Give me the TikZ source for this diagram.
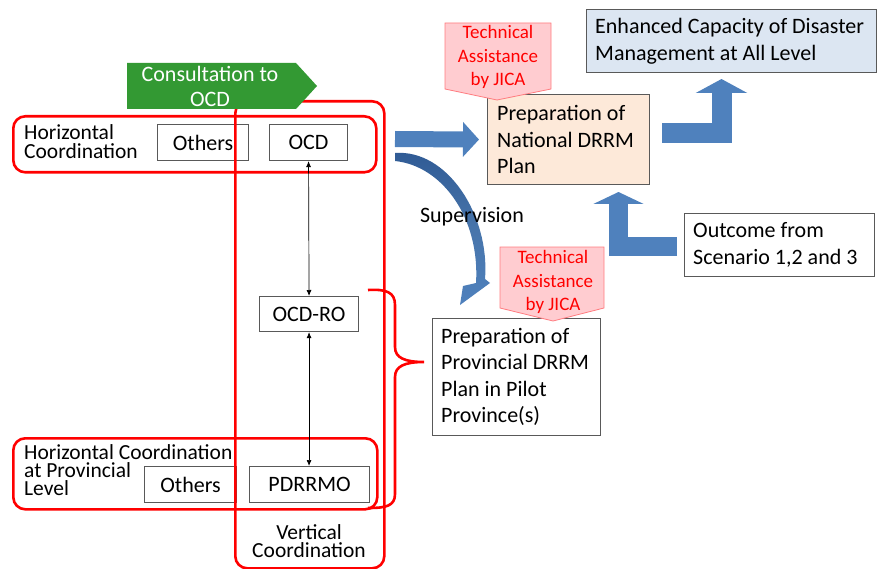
\documentclass[tikz,border=0pt]{standalone}
\usepackage{fontspec}
\setmainfont{Carlito}
\usetikzlibrary{arrows.meta,calc}
\definecolor{arrowblue}{HTML}{4F81BD}
\definecolor{arrowdark}{HTML}{2F5A94}
\definecolor{consultgreen}{HTML}{339933}
\definecolor{frame}{HTML}{FF0000}
\definecolor{boxline}{HTML}{595959}
\definecolor{peach}{HTML}{FDE9D9}
\definecolor{paleblue}{HTML}{DCE6F2}
\definecolor{calloutfill}{HTML}{FFCCD0}
\definecolor{calloutline}{HTML}{FF7C80}

\begin{document}
\begin{tikzpicture}[x=1pt,y=-1pt,
  redframe/.style={draw=frame, line width=2.6pt, rounded corners=12pt, inner sep=0pt, anchor=north west},
  plainbox/.style={draw=boxline, line width=1.1pt, fill=white, inner sep=0pt, anchor=north west},
  boxtext/.style={font=\fontsize{22}{26.5}\selectfont, inner sep=0pt, align=left, anchor=west},
  centertext/.style={font=\fontsize{22}{26.5}\selectfont, inner sep=0pt, align=center},
  grouptext/.style={font=\fontsize{21.5}{19}\selectfont, inner sep=0pt, align=left, anchor=west},
  callout/.style={fill=calloutfill, draw=calloutline, line width=0.8pt},
  callouttext/.style={font=\fontsize{19}{23.5}\selectfont, text=frame, inner sep=0pt, align=center},
  link/.style={draw=black, line width=0.7pt, {Latex[length=6pt,width=5pt]}-{Latex[length=6pt,width=5pt]}},
  fatarrow/.style={draw=arrowblue, line join=miter},
]
\useasboundingbox (0,0) rectangle (877,569);

% ---- coordination frames (horizontal rows) ----
\node[redframe, minimum width=363pt, minimum height=56pt] (hframe) at (12,115) {};
\node[redframe, minimum width=364pt, minimum height=71pt] (pframe) at (12,437) {};

% ---- organisation boxes ----
\node[plainbox, minimum width=91pt, minimum height=36pt] (others) at (157,124) {};
\node[plainbox, minimum width=78pt, minimum height=36pt] (ocd) at (269,124) {};
\node[plainbox, minimum width=99pt, minimum height=35pt] (ocdro) at (259,296) {};
\node[plainbox, minimum width=92pt, minimum height=36pt] (othersp) at (144,466) {};
\node[plainbox, minimum width=120pt, minimum height=36pt] (pdrrmo) at (249,466) {};

\node[centertext] (otherst) at (others.center) {Others};
\node[centertext] (ocdt) at (ocd.center) {OCD};
\node[centertext] (ocdrot) at (ocdro.center) {OCD-RO};
\node[centertext] (otherspt) at (othersp.center) {Others};
\node[centertext] (pdrrmot) at (pdrrmo.center) {PDRRMO};

% ---- vertical coordination frame ----
\node[redframe, minimum width=149pt, minimum height=467pt] (vframe) at (234,100) {};

% ---- consultation arrow ----
\fill[consultgreen] (127,63) -- (296,63) -- (317,86) -- (296,109) -- (127,109) -- cycle;
\node[font=\fontsize{22}{25}\selectfont, text=white, inner sep=0pt, align=center] (consult) at (210,86) {Consultation to\\OCD};

% ---- vertical links ----
\draw[link] (ocd.south) -- (ocdro.north);
\draw[link] (ocdro.south) -- (pdrrmo.north -| ocdro.south);

% ---- brace ----
\draw[frame, line width=2.6pt]
  (368,290) .. controls (386,289) and (395,292) .. (395,305) -- (395,347)
  .. controls (395,358) and (405,362) .. (424,362)
  .. controls (405,362) and (395,366) .. (395,377) -- (395,494)
  .. controls (395,506) and (386,508) .. (368,508);

% ---- labels of the coordination frames ----
\node[grouptext] (hlabel) at (24,142) {Horizontal\\Coordination};
\node[grouptext, font=\fontsize{21.5}{18}\selectfont] (plabel) at (24,470) {Horizontal Coordination\\at Provincial\\Level};
\node[centertext, font=\fontsize{21.5}{18.5}\selectfont] (vlabel) at (309,541) {Vertical\\Coordination};

% ---- plan and outcome boxes ----
\node[plainbox, fill=peach, minimum width=162pt, minimum height=90pt] (national) at (487,94) {};
\node[plainbox, minimum width=168pt, minimum height=117pt] (provincial) at (432,318) {};
\node[plainbox, fill=paleblue, minimum width=290pt, minimum height=63pt] (enhanced) at (586,9) {};
\node[plainbox, minimum width=190pt, minimum height=63pt] (outcome) at (684,213) {};

\node[boxtext] (nationalt) at ($(national.west)+(10,0)$) {Preparation of\\National DRRM\\Plan};
\node[boxtext] (provincialt) at ($(provincial.west)+(9,0)$) {Preparation of\\Provincial DRRM\\Plan in Pilot\\Province(s)};
\node[boxtext] (enhancedt) at ($(enhanced.west)+(9,0)$) {Enhanced Capacity of Disaster\\Management at All Level};
\node[boxtext] (outcomet) at ($(outcome.west)+(9,0)$) {Outcome from\\Scenario 1,2 and 3};

% ---- block arrows ----
\coordinate (hstart) at (395,139);
\draw[fatarrow, line width=16pt, -{Triangle[length=16pt,width=34pt]}]
  (hstart) -- ($(national.west)+(-8,0)$);

\coordinate (upstart) at (662,133);
\coordinate (uptip) at (721.5,79);
\draw[fatarrow, line width=20pt, -{Triangle[length=14pt,width=51pt]}]
  (upstart) -| (uptip);

\coordinate (instart) at ($(outcome.west)+(-7,1)$);
\coordinate (intip) at (618.5,192);
\draw[fatarrow, line width=19pt, -{Triangle[length=12pt,width=50pt]}]
  (instart) -| (intip);

% ---- supervision arrow ----
\shade[top color=arrowdark, bottom color=arrowblue, middle color=arrowblue!90!black]
  (395,153) .. controls (447,149) and (490,215) .. (485,279)
  -- (490,283) -- (460,305) -- (463,286) -- (476,283)
  .. controls (480,219) and (443,166) .. (395,161) -- cycle;
\node[centertext] (supervision) at (472,217) {Supervision};

% ---- technical assistance callouts ----
\filldraw[callout] (445,23) -- (551,23) -- (551,89) -- (497,100) -- (445,89) -- cycle;
\node[callouttext] (ta1) at (498,57) {Technical\\Assistance\\by JICA};
\filldraw[callout] (500,247) -- (604,247) -- (604,308) -- (553,321) -- (500,308) -- cycle;
\node[callouttext] (ta2) at (553,282) {Technical\\Assistance\\by JICA};
\end{tikzpicture}
\end{document}
